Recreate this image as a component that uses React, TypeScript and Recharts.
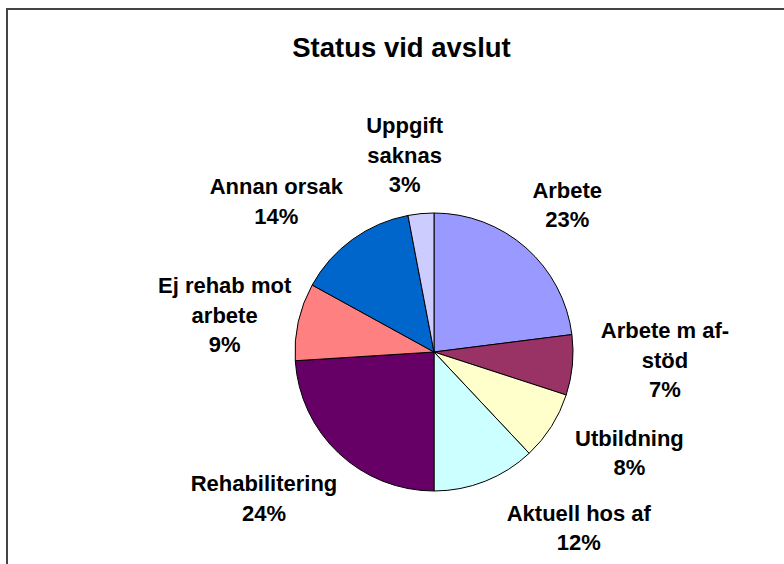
import { PieChart, Pie, Cell } from 'recharts';

const categories = [
  'Arbete',
  'Arbete m af-stöd',
  'Utbildning',
  'Aktuell hos af',
  'Rehabilitering',
  'Ej rehab mot arbete',
  'Annan orsak',
  'Uppgift saknas',
];
const shares = [23, 7, 8, 12, 24, 9, 14, 3];
// how each category name wraps in its label
const labelLines = [
  ['Arbete'],
  ['Arbete m af-', 'stöd'],
  ['Utbildning'],
  ['Aktuell hos af'],
  ['Rehabilitering'],
  ['Ej rehab mot', 'arbete'],
  ['Annan orsak'],
  ['Uppgift', 'saknas'],
];
const sliceColors = ['#9999FF', '#993366', '#FFFFCC', '#CCFFFF', '#660066', '#FF8080', '#0066CC', '#CCCCFF'];

const FONT = '"Liberation Sans", Arial, sans-serif';
const LABEL_SIZE = 22;
const LINE_H = 29.5;
const LABEL_GAP = 28;
// small hand tweaks so labels sit where the original placed them
const LABEL_NUDGE: [number, number][] = [
  [1, 0], [-1, -12], [8, -5], [55, -7], [-3, 3], [18, 9], [-24, 8], [-10, 13],
];

const total = shares.reduce((a, b) => a + b, 0);
const data = categories.map((name, i) => ({ name, value: shares[i] }));

function renderLabel(props: any) {
  const { cx, cy, midAngle, outerRadius, index, value } = props;
  const rad = (midAngle * Math.PI) / 180;
  const ux = Math.cos(rad);
  const uy = -Math.sin(rad);
  const lines = [...labelLines[index], `${Math.round((value / total) * 100)}%`];
  const w = Math.max(...lines.map(l => l.length)) * 11;
  const h = lines.length * LINE_H;
  const r = outerRadius + LABEL_GAP;
  const [nx, ny] = LABEL_NUDGE[index];
  const x = cx + r * ux + (ux * w) / 2 + nx;
  const y = cy + r * uy + (uy * h) / 2 + ny;
  return (
    <text
      key={`lbl-${index}`}
      x={x}
      y={y}
      textAnchor="middle"
      fontFamily={FONT}
      fontWeight="bold"
      fontSize={LABEL_SIZE}
      fill="#000"
    >
      {lines.map((line, i) => (
        <tspan key={i} x={x} y={y + (i - (lines.length - 1) / 2) * LINE_H + 8}>
          {line}
        </tspan>
      ))}
    </text>
  );
}

export default function App() {
  return (
    <div style={{ position: 'absolute', left: 0, top: 0, width: 784, height: 564, background: '#fff', overflow: 'hidden' }}>
      <div
        style={{
          position: 'absolute',
          left: 6,
          top: 8,
          right: -10,
          bottom: -10,
          borderTop: '2px solid #444',
          borderLeft: '2px solid #444',
        }}
      />
      <svg width={784} height={564} style={{ position: 'absolute', left: 0, top: 0 }}>
        <text x={401.5} y={57} textAnchor="middle" fontFamily={FONT} fontWeight="bold" fontSize={27.5} fill="#000">
          Status vid avslut
        </text>
      </svg>
      <div style={{ position: 'absolute', left: 0, top: 0 }}>
        <PieChart width={784} height={564} margin={{ top: 0, right: 0, bottom: 0, left: 0 }}>
          <Pie
            data={data}
            dataKey="value"
            nameKey="name"
            cx={434}
            cy={352}
            outerRadius={139}
            startAngle={90}
            endAngle={-270}
            stroke="#000"
            strokeWidth={1}
            label={renderLabel}
            labelLine={false}
            isAnimationActive={false}
          >
            {data.map((d, i) => (
              <Cell key={d.name} fill={sliceColors[i]} />
            ))}
          </Pie>
        </PieChart>
      </div>
    </div>
  );
}
